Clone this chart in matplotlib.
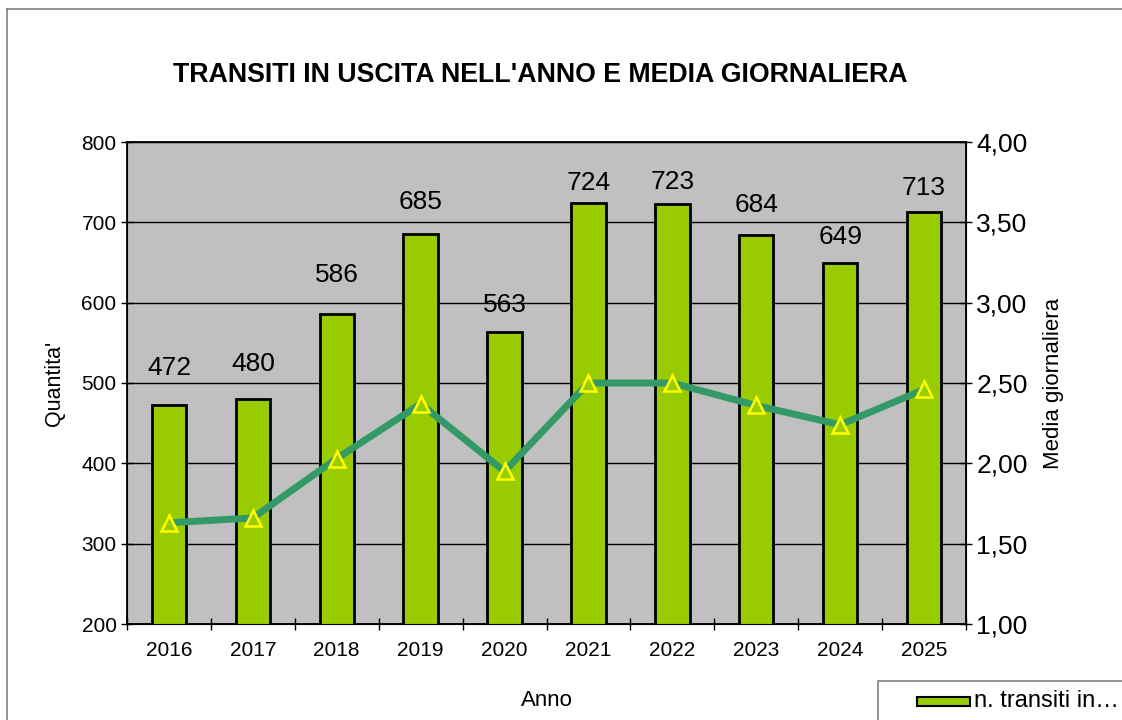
import matplotlib.pyplot as plt
from matplotlib.patches import Rectangle
from matplotlib.lines import Line2D

plt.rcParams['font.family'] = ['Liberation Sans', 'DejaVu Sans']

anni = ["2016", "2017", "2018", "2019", "2020", "2021", "2022", "2023", "2024", "2025"]
transiti = [472, 480, 586, 685, 563, 724, 723, 684, 649, 713]
media = [1.63, 1.66, 2.03, 2.37, 1.95, 2.50, 2.50, 2.36, 2.24, 2.46]

# gap (px) between bar top and label baseline, as placed in the original
label_gap = [30, 28, 32, 25, 20, 13, 15, 23, 19, 17]

bar_color = "#99CC00"
line_color = "#339966"

fig = plt.figure(figsize=(11.22, 7.2), dpi=100)
ax1 = fig.add_axes([127 / 1122, 96 / 720, (966 - 127) / 1122, (624 - 142) / 720])
ax1.set_facecolor("#C0C0C0")

x = list(range(len(anni)))
ax1.bar(x, transiti, width=0.41, color=bar_color, edgecolor="black", linewidth=2, zorder=3)
ax1.set_ylim(200, 800)
ax1.set_xlim(-0.5, len(anni) - 0.5)
ax1.set_yticks(range(200, 801, 100))
ax1.yaxis.grid(True, color="black", linewidth=1)
ax1.set_axisbelow(True)
ax1.set_xticks(x)
ax1.set_xticklabels(anni, fontsize=15)
ax1.set_xticks([i - 0.5 for i in range(len(anni) + 1)], minor=True)
ax1.tick_params(axis="x", which="major", length=0, pad=12)
ax1.tick_params(axis="x", which="minor", length=8, width=1, direction="inout")
ax1.tick_params(axis="y", labelsize=15, length=8, width=1, direction="inout")
for s in ax1.spines.values():
    s.set_linewidth(1.3)
ax1.set_ylabel("Quantita'", fontsize=15.5, labelpad=12)
ax1.set_xlabel("Anno", fontsize=16, labelpad=22)

for xi, v, g in zip(x, transiti, label_gap):
    ax1.annotate(str(v), (xi, v), xytext=(0, g * 0.72), textcoords="offset points",
                 ha="center", va="baseline", fontsize=19)

ax2 = ax1.twinx()
ax2.plot(x, media, color=line_color, linewidth=5, marker="^", markersize=11,
         markerfacecolor=bar_color, markeredgecolor="#FFFF00", markeredgewidth=1.8, zorder=4)
ax2.set_ylim(1.0, 4.0)
ax2.set_yticks([1.0, 1.5, 2.0, 2.5, 3.0, 3.5, 4.0])
ax2.set_yticklabels([f"{v:.2f}".replace(".", ",") for v in ax2.get_yticks()], fontsize=19)
ax2.tick_params(axis="y", length=8, width=1, direction="inout")
ax2.set_ylabel("Media giornaliera", fontsize=16, labelpad=11)
ax2.set_xlim(-0.5, len(anni) - 0.5)

fig.text(540 / 1122, 1 - 75 / 720, "TRANSITI IN USCITA NELL'ANNO E MEDIA GIORNALIERA",
         ha="center", va="center", fontsize=19.3, fontweight="bold")

# outer chart frame
fig.add_artist(Line2D([7 / 1122, 7 / 1122], [0, 1 - 9 / 720], color="#808080", linewidth=1.2))
fig.add_artist(Line2D([7 / 1122, 1], [1 - 9 / 720, 1 - 9 / 720], color="#808080", linewidth=1.2))

# legend box (cut off at bottom)
fig.add_artist(Rectangle((878 / 1122, -0.05), 0.3, 0.05 + 39 / 720, transform=fig.transFigure,
                         facecolor="white", edgecolor="#808080", linewidth=1.2))
fig.add_artist(Rectangle((917 / 1122, 1 - 706 / 720), 53 / 1122, 9 / 720, transform=fig.transFigure,
                         facecolor=bar_color, edgecolor="black", linewidth=1.5))
fig.text(974 / 1122, 1 - 701 / 720, "n. transiti in\u2026", ha="left", va="center", fontsize=17)

fig.savefig("out.png", dpi=100)
